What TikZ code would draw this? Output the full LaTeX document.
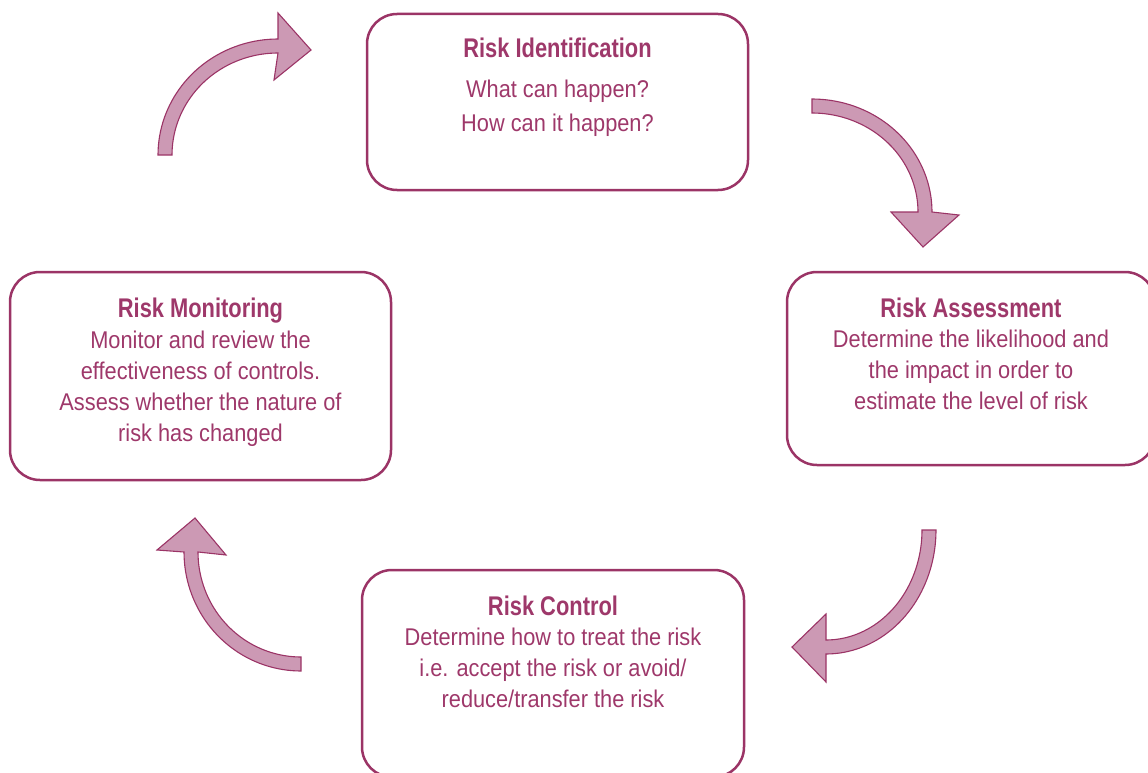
\documentclass[tikz,border=0pt]{standalone}
\usepackage{fontspec}
\setmainfont{Liberation Sans}
\newfontfamily\bodyfont{Liberation Sans}[FakeStretch=0.9]
\newfontfamily\titlefont{Liberation Sans}[FakeStretch=0.81]
\definecolor{rim}{RGB}{155,52,102}
\definecolor{ink}{RGB}{158,56,106}
\definecolor{mauve}{RGB}{204,153,180}
\tikzset{
  stagebox/.style={draw=rim, line width=2.5pt, rounded corners=30pt, fill=none, inner sep=0pt},
  stagetext/.style={text=ink, align=center, inner sep=0pt, anchor=north,
    font=\bodyfont\fontsize{24.2}{31}\selectfont},
  bentarrow/.style={draw=rim, line width=1.1pt, fill=mauve, line join=miter},
}
\newcommand{\ttl}[1]{{\titlefont\bfseries\fontsize{27}{31}\selectfont #1}}
\begin{document}
\begin{tikzpicture}[x=1pt,y=-1pt]
\useasboundingbox (0,0) rectangle (1148,773);
% boxes
\node[stagebox, minimum width=381pt, minimum height=176pt] (ident) at (557.5,102) {};
\node[stagebox, minimum width=368pt, minimum height=193pt] (assess) at (971,368.5) {};
\node[stagebox, minimum width=381pt, minimum height=208pt] (monit) at (200.5,376) {};
\node[stagebox, minimum width=382pt, minimum height=207pt] (ctrl) at (553,673.5) {};
% texts
\node[stagetext] (identtxt) at (557.5,37.5) {\ttl{Risk Identification}\\[9pt]What can happen?\\[3pt]How can it happen?};
\node[stagetext] (assesstxt) at (971,297.3) {\ttl{Risk Assessment}\\[-1pt]Determine the likelihood and\\the impact in order to\\estimate the level of risk};
\node[stagetext] (monittxt) at (200.5,297.5) {\ttl{Risk Monitoring}\\[0pt]Monitor and review the\\effectiveness of controls.\\Assess whether the nature of\\risk has changed};
\node[stagetext] (ctrltxt) at (553,595.5) {\ttl{Risk Control}\\[-1pt]Determine how to treat the risk\\i.e. accept the risk or avoid/\\reduce/transfer the risk};
% curved block arrows
\draw[bentarrow] plot[domain=180:270, samples=40] ({278+120*cos(\x)},{155+116*sin(\x)})
  -- (278,13) -- (311,50) -- (274,80)
  -- plot[domain=270:180, samples=40] ({278+106*cos(\x)},{155+102*sin(\x)}) -- cycle;
\draw[bentarrow] plot[domain=-90:0, samples=40] ({812+120*cos(\x)},{212+113*sin(\x)})
  -- (959,215) -- (923,247) -- (891,212)
  -- plot[domain=0:-90, samples=40] ({812+106*cos(\x)},{212+99*sin(\x)}) -- cycle;
\draw[bentarrow] plot[domain=0:90, samples=40] ({826+110*cos(\x)},{530+124*sin(\x)})
  -- (826,682) -- (792,647) -- (826,614)
  -- plot[domain=90:0, samples=40] ({826+96*cos(\x)},{530+110*sin(\x)}) -- cycle;
\draw[bentarrow] plot[domain=90:180, samples=40] ({301+117*cos(\x)},{552+119*sin(\x)})
  -- (157,550) -- (195,518) -- (226,555)
  -- plot[domain=180:90, samples=40] ({301+103*cos(\x)},{552+105*sin(\x)}) -- cycle;
\end{tikzpicture}
\end{document}
